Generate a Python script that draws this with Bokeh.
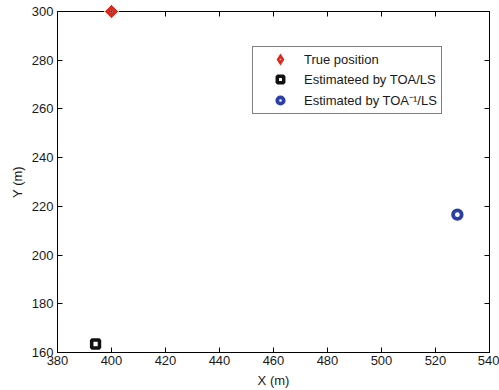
import math
from bokeh.plotting import figure
from bokeh.models import Legend, LegendItem, LinearAxis, FixedTicker, Range1d
from bokeh.embed import file_html
from bokeh.resources import INLINE

# ---- data ----
x_ticks = [380, 400, 420, 440, 460, 480, 500, 520, 540]
y_ticks = [160, 180, 200, 220, 240, 260, 280, 300]
true_x = [400.0]
true_y = [300.0]
toa_x = [394.1]
toa_y = [163.5]
inv_x = [528.1]
inv_y = [216.6]
labels = ["True position", "Estimateed by TOA/LS", "Estimated by TOA\u207b\u00b9/LS"]

FONT = "Liberation Sans"
RED = "#e2261c"
BLUE = "#2b3fa8"

p = figure(frame_width=432, frame_height=341,
           x_range=Range1d(380, 540), y_range=Range1d(160, 300),
           output_backend="svg", toolbar_location=None,
           min_border_left=57, min_border_right=10, min_border_top=11, min_border_bottom=38,
           background_fill_color="white", border_fill_color="white")
# a range on which the data lie off-screen: used only to style legend glyphs
p.extra_x_ranges = {"legend_only": Range1d(0, 1)}
p.grid.visible = False
p.outline_line_color = "black"
p.outline_line_width = 1

def style_axis(ax, ticks, show_labels=True):
    ax.ticker = FixedTicker(ticks=ticks)
    ax.major_tick_in = 5
    ax.major_tick_out = 0
    ax.minor_tick_line_color = None
    ax.axis_line_color = "black"
    ax.major_tick_line_color = "black"
    ax.major_label_text_font = FONT
    ax.major_label_text_color = "#1a1a1a"
    ax.axis_label_text_font = FONT
    ax.axis_label_text_font_style = "normal"
    ax.axis_label_text_font_size = "13px"
    ax.axis_label_text_color = "#1a1a1a"
    if show_labels:
        ax.major_label_text_font_size = "13px"
    else:
        ax.major_label_text_font_size = "0px"
        ax.major_label_standoff = 0

style_axis(p.xaxis[0], x_ticks)
style_axis(p.yaxis[0], y_ticks)
p.xaxis[0].axis_label = "X (m)"
p.yaxis[0].axis_label = "Y (m)"
p.xaxis[0].major_label_standoff = 3
p.xaxis[0].axis_label_standoff = 5
p.yaxis[0].major_label_standoff = 4
p.yaxis[0].axis_label_standoff = 4

ax_r = LinearAxis()
style_axis(ax_r, y_ticks, show_labels=False)
p.add_layout(ax_r, "right")
ax_t = LinearAxis()
style_axis(ax_t, x_ticks, show_labels=False)
p.add_layout(ax_t, "above")

# plot marks
p.scatter(true_x, true_y, marker="square_dot", angle=math.pi / 4, size=10,
          fill_color=RED, line_color="white", line_width=1, level="overlay")
p.scatter(true_x, true_y, marker="circle", size=2.5, fill_color="#333333",
          line_color=None, level="overlay")
r_toa = p.scatter(toa_x, toa_y, marker="square", size=7.8, fill_color="white",
                  line_color="#111111", line_width=3.5)
r_inv = p.scatter(inv_x, inv_y, marker="circle", size=8.6, fill_color="white",
                  line_color=BLUE, line_width=3.8)

# legend glyphs for the true position (off-screen in the plot)
lg_dia = p.scatter(true_x, true_y, marker="diamond", size=8, fill_color=RED,
                   line_color=RED, line_width=3, line_join="miter", x_range_name="legend_only")
lg_dot = p.scatter(true_x, true_y, marker="dot", size=8, line_color="white",
                   fill_color="white", line_width=1.5, x_range_name="legend_only")

legend = Legend(items=[LegendItem(label=labels[0], renderers=[lg_dia, lg_dot]),
                       LegendItem(label=labels[1], renderers=[r_toa]),
                       LegendItem(label=labels[2], renderers=[r_inv])],
                location=(195, 238), margin=0, padding=4, spacing=4,
                glyph_width=46, glyph_height=16, label_height=16, label_standoff=1,
                label_text_font=FONT, label_text_font_size="13px", label_text_color="#1a1a1a",
                border_line_color="black", border_line_width=1,
                background_fill_color="white", background_fill_alpha=1)
p.add_layout(legend, "center")

open("out.html", "w").write(file_html(p, INLINE))
